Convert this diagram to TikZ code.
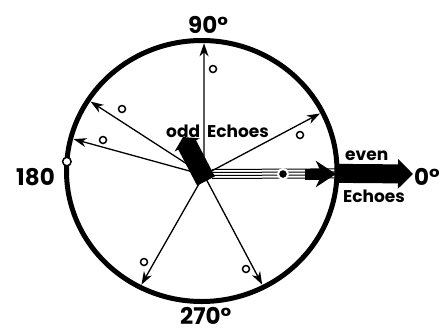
\documentclass[tikz,border=0pt]{standalone}
\usepackage{fontspec}
\setmainfont{Poppins}
\usetikzlibrary{arrows.meta,shapes.geometric}

\begin{document}
\begin{tikzpicture}[
  x=1pt,y=-1pt,
  ring/.style={ellipse,draw,line width=5pt,minimum width=270.5pt,
    minimum height=261pt,inner sep=0pt,outer sep=0pt},
  vec/.style={-{Stealth[length=13pt,width=9pt,inset=4pt]},line width=1.3pt,
    shorten >=2.8pt},
  marker/.style={circle,draw,line width=1.5pt,minimum size=7pt,inner sep=0pt},
  oddarrow/.style={-{Triangle[length=9pt,width=28pt]},line width=20pt},
  stripe/.style={line width=1pt},
  evendot/.style={circle,fill,draw=white,line width=2pt,minimum size=10pt,inner sep=0pt},
  evenhead/.style={-{Stealth[length=20pt,width=26pt,inset=6pt]},line width=11pt},
  bigarrow/.style={-{Triangle[length=15pt,width=29pt]},line width=19pt},
  deg/.style={font=\bfseries\fontsize{23}{23}\selectfont,inner sep=0pt,anchor=base west},
  lbl/.style={font=\bfseries\fontsize{17}{17}\selectfont,inner sep=0pt,anchor=base west}
]
\useasboundingbox (0,0) rectangle (439,333);

\node[ring] (ring) at (201.75,171) {};
\coordinate (o) at (204,175);

% echo vectors
\draw[vec] (o) -- (ring.89.3);
\draw[vec] (o) -- (ring.148.2);
\draw[vec] (o) -- (ring.166.7);
\draw[vec] (o) -- (ring.26.3);
\draw[vec] (o) -- (ring.242.7);
\draw[vec] (o) -- (ring.298.8);

\node[marker] (m1) at (213,69) {};
\node[marker] (m2) at (122,109) {};
\node[marker] (m3) at (103,140) {};
\node[marker] (m4) at (300,135) {};
\node[marker] (m5) at (144,262) {};
\node[marker] (m6) at (246,269) {};
\node[marker,fill=white,minimum size=8.5pt] (m0) at (ring.176.4) {};

% odd echoes
\coordinate (oddbase) at (206,181);
\coordinate (oddtip) at (183,137);
\draw[oddarrow] (oddbase) -- (oddtip);

% even echoes
\coordinate (e1) at (212,174);
\coordinate (e2) at (ring.359.4);
\foreach \dy in {-4.5,-1.5,1.5,4.5}
  \draw[stripe] ([yshift=\dy pt]e1) -- ([yshift=\dy pt]e2);
\node[evendot] (dot) at (283,174) {};
\coordinate (f1) at (305,174);
\coordinate (f2) at (336,174);
\draw[evenhead] (f1) -- (f2);
\coordinate (etip) at (413,174);
\draw[bigarrow] (e2) -- (etip);

% labels
\node[deg] (n90) at (188,33) {90°};
\node[deg] (n180) at (16,185) {180};
\node[deg] (n270) at (180,324.5) {270°};
\node[deg] (n0) at (414,185) {0°};
\node[lbl] (odd) at (166,137) {odd\hspace{7pt}Echoes};
\node[lbl] (even) at (345,160) {even};
\node[lbl] (echo) at (343,202) {Echoes};
\end{tikzpicture}
\end{document}
